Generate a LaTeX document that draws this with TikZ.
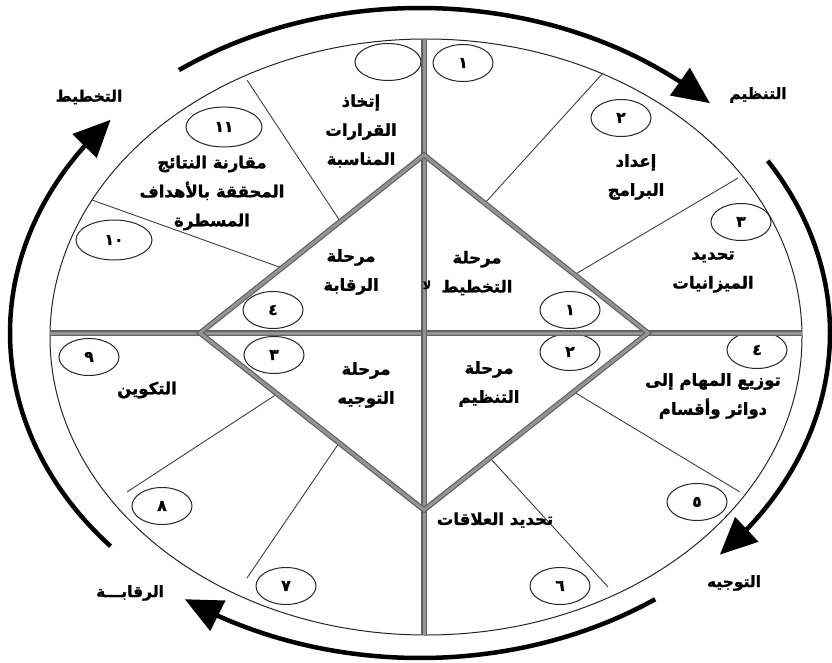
\documentclass[tikz,border=0pt]{standalone}
\usepackage{fontspec}
\TeXXeTstate=1
\newfontfamily\arabicfont[Script=Arabic,BoldFeatures={FakeBold=1.3}]{DejaVu Sans}
\usetikzlibrary{shapes.geometric,arrows.meta,bending}
\newcommand{\AR}[1]{\beginR #1\endR}
\begin{document}
\begin{tikzpicture}[x=1pt,y=-1pt,
  ar/.style={font=\arabicfont\bfseries\fontsize{16.5}{29}\selectfont, align=center, inner sep=1pt},
  lbl/.style={font=\arabicfont\bfseries\fontsize{15.5}{16}\selectfont, inner sep=1pt},
  oval/.style={draw=black!85, ellipse, line width=1pt, minimum width=60pt, minimum height=37pt, inner sep=0pt, font=\arabicfont\bfseries\fontsize{15.5}{15.5}\selectfont},
  bigoval/.style={oval, minimum width=76pt, minimum height=40pt},
  axisline/.style={draw=black!62, line width=1.2pt, double=black!42, double distance=3pt},
  sepline/.style={draw=black!75, line width=0.9pt},
  cycle arrow/.style={line width=4.5pt, -{Triangle[length=37pt,width=33pt,flex]}}]
\useasboundingbox (0,0) rectangle (832,663);
\fill[white] (0,0) rectangle (832,663);
% main ellipse
\coordinate (C) at (426,337);
\draw[line width=1pt, black!85] (C) ellipse [x radius=376, y radius=298];
% separator lines
\coordinate (s1a) at (247,80);  \coordinate (s1b) at (340,221);
\coordinate (s2a) at (92,200);  \coordinate (s2b) at (282,268);
\coordinate (s3a) at (603,73);  \coordinate (s3b) at (485,203);
\coordinate (s4a) at (738,178); \coordinate (s4b) at (574,275);
\coordinate (s5a) at (127,492); \coordinate (s5b) at (277,394);
\coordinate (s6a) at (247,578); \coordinate (s6b) at (339,443);
\coordinate (s7a) at (740,492); \coordinate (s7b) at (574,392);
\coordinate (s8a) at (608,587); \coordinate (s8b) at (490,458);
\foreach \i in {1,...,8} {\draw[sepline] (s\i a) -- (s\i b);}
% ovals
\node[oval] (o1) at (463,63) {١};
\node[oval] (o2) at (621,118) {٢};
\node[oval] (o3) at (741,222) {٣};
\node[oval] (o4) at (757,350) {٤};
\node[oval] (o5) at (697,502) {٥};
\node[oval] (o6) at (560,586) {٦};
\node[oval] (o7) at (286,586) {٧};
\node[oval] (o8) at (162,506) {٨};
\node[oval] (o9) at (89,357) {٩};
\node[bigoval] (o10) at (114,240) {١٠};
\node[bigoval] (o11) at (224,127) {١١};
\node[oval, minimum width=66pt] (o12) at (388,62) {};
\node[oval] (p1) at (570,310) {١};
\node[oval] (p2) at (570,352) {٢};
\node[oval] (p3) at (274,355) {٣};
\node[oval] (p4) at (273,310) {٤};
% axes
\coordinate (W) at (50,333); \coordinate (E) at (802,333);
\coordinate (N) at (424,40); \coordinate (S) at (424,635);
\draw[axisline] (W) -- (E);
\draw[axisline] (N) -- (S);
% diamond
\coordinate (dT) at (424,155); \coordinate (dR) at (648,333);
\coordinate (dB) at (424,510); \coordinate (dL) at (200,333);
\draw[axisline, line join=miter] (dT) -- (dR) -- (dB) -- (dL) -- cycle;
% texts inside
\node[ar] (t12) at (361,131) {\AR{إتخاذ}\\\AR{القرارات}\\\AR{المناسبة}};
\node[ar] (t11) at (212,193) {\AR{مقارنة النتائج}\\\AR{المحققة بالأهداف}\\\AR{المسطرة}};
\node[ar] (t2) at (636,177) {\AR{إعداد}\\\AR{البرامج}};
\node[ar] (t3) at (713,272) {\AR{تحديد}\\\AR{الميزانيات}};
\node[ar] (t4) at (713,396) {\AR{توزيع المهام إلى}\\\AR{دوائر وأقسام}};
\node[ar] (t6) at (495,520) {\AR{تحديد العلاقات}};
\node[ar] (t9) at (147,390) {\AR{التكوين}};
\node[ar] (ph1) at (477,273) {\AR{مرحلة}\\\AR{التخطيط}};
\node[ar] (ph2) at (489,384) {\AR{مرحلة}\\\AR{التنظيم}};
\node[ar] (ph3) at (366,385) {\AR{مرحلة}\\\AR{التوجيه}};
\node[ar] (ph4) at (351,272) {\AR{مرحلة}\\\AR{الرقابة}};
\node[lbl, font=\arabicfont\bfseries\fontsize{11}{11}\selectfont] (la) at (427,285) {\AR{لا}};
% outer cycle
\coordinate (K) at (420,333);
\draw[cycle arrow] (K) ++(-126:410 and 325) arc[start angle=-126, end angle=-45, x radius=410, y radius=325];
\draw[cycle arrow] (K) ++(-32:410 and 325) arc[start angle=-32, end angle=43, x radius=410, y radius=325];
\draw[cycle arrow] (K) ++(55:410 and 325) arc[start angle=55, end angle=125, x radius=410, y radius=325];
\draw[cycle arrow] (K) ++(139:410 and 325) arc[start angle=139, end angle=221, x radius=410, y radius=325];
\node[lbl] (L1) at (89,97) {\AR{التخطيط}};
\node[lbl] (L2) at (758,95) {\AR{التنظيم}};
\node[lbl] (L3) at (734,583) {\AR{التوجيه}};
\node[lbl] (L4) at (130,593) {\AR{الرقابـــة}};
\end{tikzpicture}
\end{document}
